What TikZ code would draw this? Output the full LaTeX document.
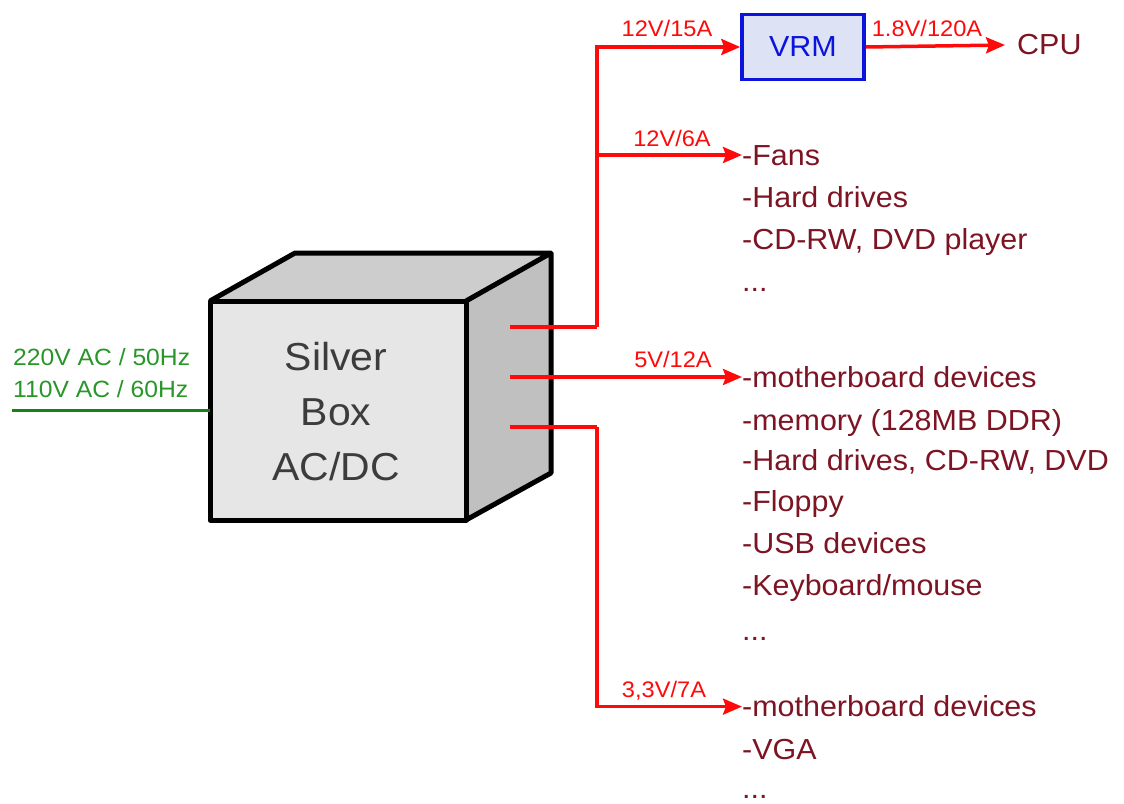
\documentclass[tikz,border=0pt]{standalone}
\usepackage{fontspec}
\setmainfont[FakeStretch=1.05]{Liberation Sans}
\usetikzlibrary{arrows.meta}
\definecolor{listred}{RGB}{125,20,35}
\definecolor{wirered}{RGB}{255,10,10}
\definecolor{wiregreen}{RGB}{20,130,20}
\definecolor{txtgreen}{RGB}{40,150,40}
\definecolor{vrmfill}{RGB}{222,226,245}
\definecolor{vrmblue}{RGB}{10,20,220}
\definecolor{frontgray}{RGB}{230,230,230}
\definecolor{topgray}{RGB}{205,205,205}
\definecolor{sidegray}{RGB}{192,192,192}
\begin{document}
\begin{tikzpicture}[x=1pt,y=-1pt,
  wire/.style={draw=wirered,line width=3.5pt},
  feed/.style={wire,-{Stealth[length=19pt,width=16pt,inset=3pt]}},
  listtxt/.style={anchor=base west,inner sep=0pt,text=listred,font=\fontsize{29}{29}\selectfont},
  lbl/.style={anchor=base,inner sep=0pt,text=wirered,font=\fontsize{22.5}{22.5}\selectfont},
  cubeline/.style={draw=black,line width=5pt,line join=round}]
\useasboundingbox (0,0) rectangle (1124,803);
% cube
\coordinate (fl) at (210,301);
\coordinate (fr) at (466,301);
\coordinate (br) at (466,520);
\coordinate (bl) at (210,520);
\coordinate (tl) at (295,253);
\coordinate (tr) at (551,253);
\coordinate (rb) at (551,473);
\fill[topgray] (fl) -- (tl) -- (tr) -- (fr) -- cycle;
\fill[sidegray] (fr) -- (tr) -- (rb) -- (br) -- cycle;
\fill[frontgray] (fl) -- (fr) -- (br) -- (bl) -- cycle;
\draw[cubeline] (fl) -- (tl) -- (tr) -- (fr) (tr) -- (rb) -- (br);
\draw[cubeline] (fl) rectangle (br);
\node[align=center,text={rgb,255:red,60;green,60;blue,60},font=\fontsize{39}{55}\selectfont] (box) at (336,412) {Silver\\Box\\AC/DC};
% input
\coordinate (ac) at (12,410);
\coordinate (acin) at (210,410);
\draw[draw=wiregreen,line width=3pt] (ac) -- (acin);
\node[anchor=south west,inner sep=0pt,align=left,text=txtgreen,font=\fontsize{23.5}{32}\selectfont] (acl) at (13,398) {220V AC / 50Hz\\110V AC / 60Hz};
% stubs
\coordinate (s1) at (510,327);
\coordinate (s2) at (510,377);
\coordinate (s3) at (510,427);
\coordinate (j1) at (597,327);
\coordinate (j3) at (597,427);
\coordinate (b1) at (597,155);
% VRM and CPU
\node[draw=vrmblue,fill=vrmfill,line width=3.5pt,minimum width=122pt,minimum height=65pt,inner sep=0pt,text=vrmblue,font=\fontsize{29}{29}\selectfont] (vrm) at (803,47) {VRM};
\node[anchor=west,inner sep=0pt,text=listred,font=\fontsize{29}{29}\selectfont] (cpu) at (1017,45) {CPU};
% lists
\node[listtxt] (fans) at (742,165) {-Fans};
\node[listtxt] at (742,207) {-Hard drives};
\node[listtxt] at (742,249) {-CD-RW, DVD player};
\node[listtxt] at (742,291) {...};
\node[listtxt] (mb1) at (742,387) {-motherboard devices};
\node[listtxt] at (742,430) {-memory (128MB DDR)};
\node[listtxt] at (742,470) {-Hard drives, CD-RW, DVD};
\node[listtxt] at (742,511) {-Floppy};
\node[listtxt] at (742,553) {-USB devices};
\node[listtxt] at (742,595) {-Keyboard/mouse};
\node[listtxt] at (742,640) {...};
\node[listtxt] (mb2) at (742,716) {-motherboard devices};
\node[listtxt] at (742,759) {-VGA};
\node[listtxt] at (742,798) {...};
% connectors
\draw[wire] (s1) -- (j1);
\draw[feed] (j1) |- (vrm.west);
\draw[feed] (b1) -- (b1 -| fans.west);
\draw[feed] (vrm.east) -- ([xshift=-12pt]cpu.west);
\draw[feed] (s2) -- (s2 -| mb1.west);
\draw[wire] (s3) -- (j3);
\draw[feed] (j3) |- ([yshift=-1pt]mb2.west);
% labels
\node[lbl] at (667,36) {12V/15A};
\node[lbl] at (927,36) {1.8V/120A};
\node[lbl] at (672,146) {12V/6A};
\node[lbl] at (673,367) {5V/12A};
\node[lbl] at (664,697) {3,3V/7A};
\end{tikzpicture}
\end{document}
